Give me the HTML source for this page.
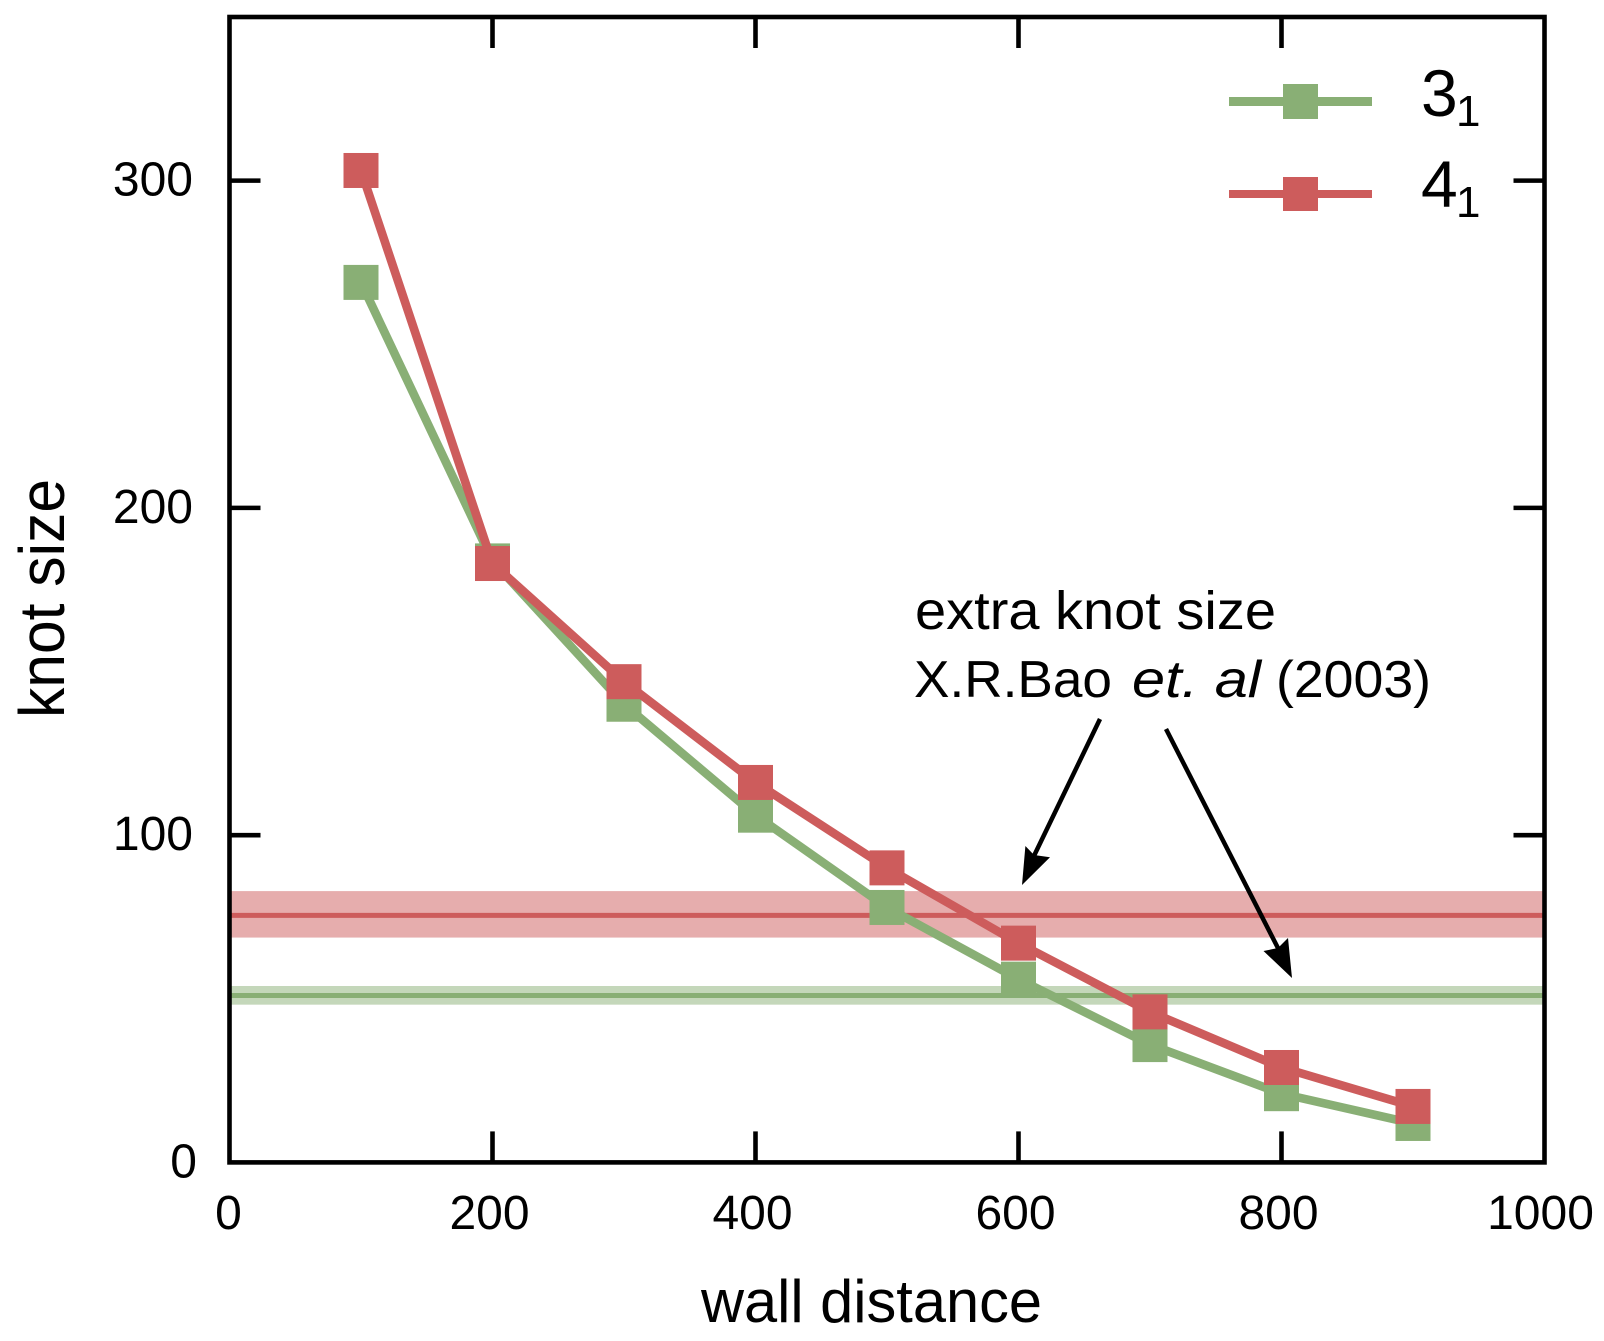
<!DOCTYPE html>
<html lang="en">
<head>
<meta charset="utf-8">
<title>Knot size vs wall distance</title>
<style>
html,body{margin:0;padding:0;background:#fff;width:1604px;height:1341px;overflow:hidden}
svg{display:block}
text{font-family:"Liberation Sans",sans-serif;fill:#000}
</style>
</head>
<body>
<svg id="chart" xmlns="http://www.w3.org/2000/svg" width="1604" height="1341" viewBox="0 0 1604 1341">
  <rect x="0" y="0" width="1604" height="1341" fill="#fff"/>
  <g id="bands"></g>
  <g id="series"></g>

  <g>
    <text x="915" y="629" font-size="54" textLength="361" lengthAdjust="spacingAndGlyphs">extra knot size</text>
    <text x="914" y="697" font-size="52" textLength="198" lengthAdjust="spacingAndGlyphs">X.R.Bao</text>
    <text x="1132" y="697" font-size="52" font-style="italic" textLength="129" lengthAdjust="spacingAndGlyphs">et. al</text>
    <text x="1276" y="697" font-size="52" textLength="155" lengthAdjust="spacingAndGlyphs">(2003)</text>
    <g>
      <line x1="1100" y1="719" x2="1032" y2="860" stroke="#000" stroke-width="4.5"/>
      <polygon points="1022,885 1025.4,846 1034,855 1050,857.3" fill="#000"/>
    </g>
    <g>
      <line x1="1166" y1="729" x2="1280" y2="952" stroke="#000" stroke-width="4.5"/>
      <polygon points="1292,978 1288,938 1278,948 1263.5,951" fill="#000"/>
    </g>
  </g>

  <g id="axes"></g>

  <g>
    <g>
      <line x1="1229" y1="101.5" x2="1372" y2="101.5" stroke="#89AF75" stroke-width="9"/>
      <rect x="1283" y="84" width="35" height="35" fill="#89AF75"/>
      <text x="1421" y="116" font-size="66">3</text>
      <text x="1456" y="126" font-size="44">1</text>
    </g>
    <g>
      <line x1="1229" y1="194" x2="1372" y2="194" stroke="#CD5C5C" stroke-width="8"/>
      <rect x="1283" y="177" width="35" height="34" fill="#CD5C5C"/>
      <text x="1421" y="207" font-size="66">4</text>
      <text x="1456" y="217" font-size="44">1</text>
    </g>
  </g>

  <text x="701" y="1322" font-size="60" textLength="341" lengthAdjust="spacingAndGlyphs">wall distance</text>
  <text transform="translate(64,718) rotate(-90)" x="0" y="0" font-size="64" textLength="239" lengthAdjust="spacingAndGlyphs">knot size</text>
</svg>

<script>
var distances = [100, 200, 300, 400, 500, 600, 700, 800, 900];
var knot31Sizes = [268.9, 183.8, 140, 106.1, 77.9, 56, 36, 21, 11.9];
var knot41Sizes = [303.1, 183, 146.9, 116.1, 90, 67, 46, 29, 17.1];
var xTickValues = [0, 200, 400, 600, 800, 1000];
var yTickValues = [0, 100, 200, 300];
var band41 = [68.7, 75.5, 82.9];
var band31 = [48.2, 51, 53.9];
var xDomain = [0, 1000];
var yDomain = [0, 350];

var plotLeft = 229.5, plotRight = 1544.5, plotTop = 17, plotBottom = 1162.4;
var GREEN = '#89AF75', RED = '#CD5C5C', NS = 'http://www.w3.org/2000/svg';

function xScale(v) { return plotLeft + (v - xDomain[0]) / (xDomain[1] - xDomain[0]) * (plotRight - plotLeft); }
function yScale(v) { return plotBottom - (v - yDomain[0]) / (yDomain[1] - yDomain[0]) * (plotBottom - plotTop); }
function make(parent, tag, attrs) {
  var el = document.createElementNS(NS, tag);
  for (var k in attrs) el.setAttribute(k, attrs[k]);
  parent.appendChild(el);
  return el;
}

var bandsLayer = document.getElementById('bands');
var seriesLayer = document.getElementById('series');
var axesLayer = document.getElementById('axes');

function drawBand(values, color, label) {
  var rect = make(bandsLayer, 'rect', { x: plotLeft, y: yScale(values[2]), width: plotRight - plotLeft, height: yScale(values[0]) - yScale(values[2]), fill: color, 'fill-opacity': 0.5 });
  
  
  var line = make(bandsLayer, 'line', { x1: plotLeft, x2: plotRight, y1: yScale(values[1]), y2: yScale(values[1]), stroke: color, 'stroke-width': 5 });
  
  
}
drawBand(band41, RED, 'knot-41');
drawBand(band31, GREEN, 'knot-31');

function drawSeries(values, color, label) {
  var pts = values.map(function (v, i) { return xScale(distances[i]) + ',' + yScale(v); }).join(' ');
  var line = make(seriesLayer, 'polyline', { points: pts, fill: 'none', stroke: color, 'stroke-width': 8.6, 'stroke-linejoin': 'miter' });
  
  
  values.forEach(function (v, i) {
    var m = make(seriesLayer, 'rect', { x: xScale(distances[i]) - 17.5, y: yScale(v) - 17.5, width: 35, height: 35, fill: color });
    
    
  });
}
drawSeries(knot31Sizes, GREEN, 'knot-31');
drawSeries(knot41Sizes, RED, 'knot-41');

var frame = make(axesLayer, 'rect', { x: plotLeft, y: plotTop, width: plotRight - plotLeft, height: plotBottom - plotTop, fill: 'none', stroke: '#000', 'stroke-width': 4.6 });



xTickValues.forEach(function (v) {
  var x = xScale(v);
  if (v > xDomain[0] && v < xDomain[1]) {
    var b = make(axesLayer, 'line', { x1: x, x2: x, y1: plotBottom, y2: plotBottom - 31, stroke: '#000', 'stroke-width': 4.6 });
    
    
    var t = make(axesLayer, 'line', { x1: x, x2: x, y1: plotTop, y2: plotTop + 31, stroke: '#000', 'stroke-width': 4.6 });
    
    
  }
  var text = String(v);
  var label = make(axesLayer, 'text', { x: x - text.length, y: 1229, 'font-size': 48, 'text-anchor': 'middle' });
  
  
  label.textContent = text;
});

yTickValues.forEach(function (v) {
  var y = yScale(v);
  if (v > yDomain[0]) {
    var l = make(axesLayer, 'line', { x1: plotLeft, x2: plotLeft + 31, y1: y, y2: y, stroke: '#000', 'stroke-width': 4.6 });
    
    
    var r = make(axesLayer, 'line', { x1: plotRight, x2: plotRight - 31, y1: y, y2: y, stroke: '#000', 'stroke-width': 4.6 });
    
    
  }
  var text = String(v);
  var label = make(axesLayer, 'text', { x: text.length === 1 ? 197 : 193, y: y + 15, 'font-size': 48, 'text-anchor': 'end' });
  
  
  label.textContent = text;
});
</script>
</body>
</html>
